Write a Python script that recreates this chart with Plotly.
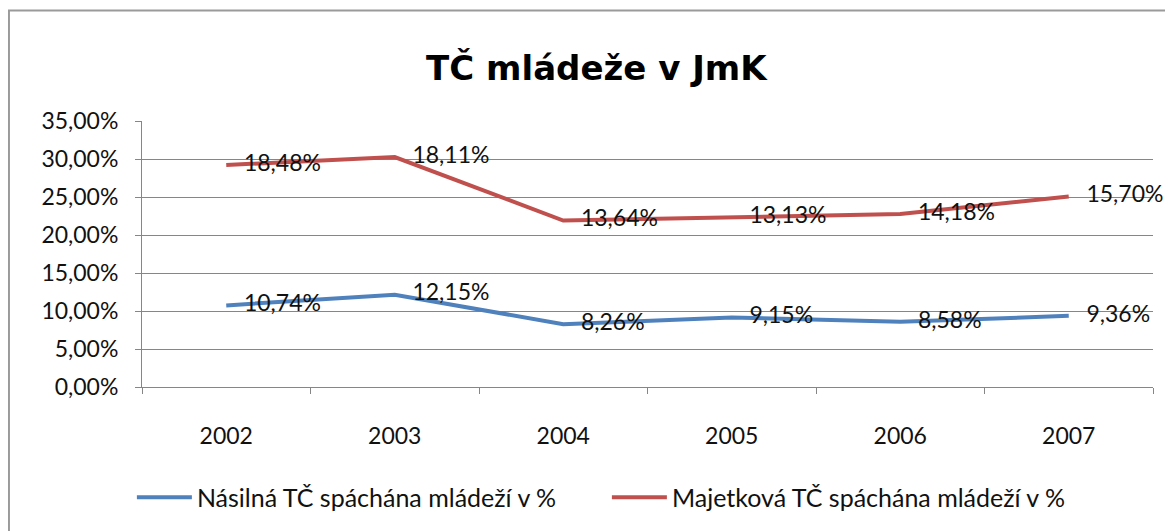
import plotly.graph_objects as go

roky = ['2002', '2003', '2004', '2005', '2006', '2007']
nasilna = [10.74, 12.15, 8.26, 9.15, 8.58, 9.36]
majetkova = [18.48, 18.11, 13.64, 13.13, 14.18, 15.70]

def popisky(vals):
    # mezery na zacatku odsunou popisek od bodu jako v Excelu
    return ["\u00a0\u00a0\u00a0" + f"{v:.2f}%".replace('.', ',') for v in vals]

fig = go.Figure()

# skladany spojnicovy graf jako v Excelu
fig.add_trace(go.Scatter(
    x=roky, y=nasilna, name='Násilná TČ spáchána mládeží v %',
    stackgroup='tc', fill='none', mode='lines+text',
    line=dict(color='#4F81BD', width=4),
    text=popisky(nasilna), textposition='middle right',
    textfont=dict(size=23, color='#111111'), cliponaxis=False,
))
fig.add_trace(go.Scatter(
    x=roky, y=majetkova, name='Majetková TČ spáchána mládeží v %',
    stackgroup='tc', fill='none', mode='lines+text',
    line=dict(color='#C0504D', width=4),
    text=popisky(majetkova), textposition='middle right',
    textfont=dict(size=23, color='#111111'), cliponaxis=False,
))

# stranka ma okraj 8 px, proto je graf o 8 px mensi
fig.update_layout(
    width=1165, height=523,
    margin=dict(l=134, r=20, t=113, b=143),
    paper_bgcolor='white', plot_bgcolor='white',
    font=dict(family='Lato, Calibri, sans-serif', color='#111111'),
    separators=', ',
    title=dict(text='<b>TČ mládeže v JmK</b>', x=0.505, xanchor='center',
               y=0.885, yanchor='middle',
               font=dict(family='DejaVu Sans', size=34, color='#000000')),
    showlegend=True,
    legend=dict(orientation='h', x=-0.01, xanchor='left', y=-0.41, yanchor='middle',
                font=dict(size=25), itemwidth=55, entrywidth=405, entrywidthmode='pixels'),
    xaxis=dict(
        type='category', range=[-0.5, 5.5], tickson='boundaries',
        ticks='outside', ticklen=6, tickcolor='#868686',
        showline=True, linecolor='#868686', linewidth=1, showgrid=False,
        tickfont=dict(size=23), ticklabelstandoff=28, fixedrange=True,
    ),
    yaxis=dict(
        range=[0, 35], dtick=5, tickformat='.2f', ticksuffix='%',
        ticks='outside', ticklen=6, tickcolor='#868686',
        showline=True, linecolor='#868686', linewidth=1,
        showgrid=True, gridcolor='#868686', gridwidth=1, zeroline=False,
        tickfont=dict(size=23), ticklabelstandoff=12,
    ),
    shapes=[dict(type='rect', xref='paper', yref='paper',
                 x0=-0.1316, x1=1.2, y0=-1.0, y1=1.4157,
                 line=dict(color='#9a9a9a', width=2))],
)

fig.write_html("out.html")
